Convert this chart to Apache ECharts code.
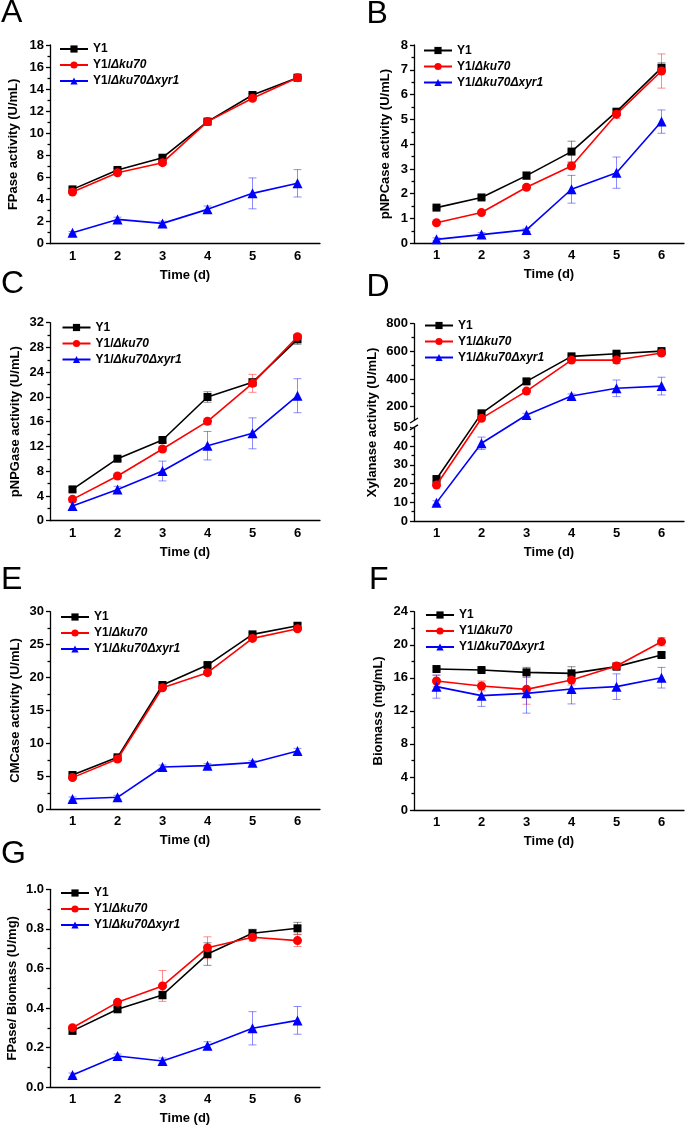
<!DOCTYPE html>
<html><head><meta charset="utf-8">
<script src="https://cdn.jsdelivr.net/npm/echarts@6/dist/echarts.min.js"></script>
<style>html,body{margin:0;padding:0;background:#fff}#c{width:685px;height:1131px}</style>
</head><body><div id="c"></div>
<script>
// ---------- data ----------
const days = ['1','2','3','4','5','6'];
const seriesNames = ['Y1','Y1/Δku70','Y1/Δku70Δxyr1'];

// A: FPase activity (U/mL)
const fpY1 = [4.92, 6.68, 7.79, 11.06, 13.47, 15.04];
const fpKu = [4.68, 6.43, 7.34, 11.06, 13.17, 15.04];
const fpXyr = [1.0, 2.2, 1.84, 3.11, 4.56, 5.47];
const fpY1Err = [0.15, 0.15, 0.2, 0.2, 0.15, 0.1];
const fpKuErr = [0.15, 0.15, 0.2, 0.25, 0.2, 0.1];
const fpXyrErr = [0.1, 0.2, 0.2, 0.3, 1.4, 1.24];

// B: pNPCase activity (U/mL)
const pcY1 = [1.44, 1.85, 2.73, 3.70, 5.31, 7.08];
const pcKu = [0.83, 1.24, 2.26, 3.12, 5.21, 6.95];
const pcXyr = [0.16, 0.35, 0.54, 2.18, 2.85, 4.91];
const pcY1Err = [0.05, 0.08, 0.15, 0.42, 0.1, 0.2];
const pcKuErr = [0.05, 0.06, 0.08, 0.12, 0.18, 0.69];
const pcXyrErr = [0.06, 0.08, 0.06, 0.56, 0.63, 0.47];

// C: pNPGase activity (U/mL)
const pgY1 = [5.06, 10.02, 13.04, 19.99, 22.36, 29.31];
const pgKu = [3.45, 7.22, 11.58, 16.06, 22.2, 29.74];
const pgXyr = [2.37, 5.06, 8.03, 12.12, 14.12, 20.2];
const pgY1Err = [0.3, 0.3, 0.4, 0.85, 0.6, 0.8];
const pgKuErr = [0.3, 0.4, 0.4, 0.5, 1.45, 0.3];
const pgXyrErr = [0.6, 0.5, 1.6, 2.3, 2.5, 2.75];

// D: Xylanase activity (U/mL), broken axis 0-50 / 100-800
const xyY1 = [22.4, 152, 383, 564, 583, 602];
const xyKu = [19.2, 116, 313, 537, 537, 588];
const xyXyr = [9.8, 41.5, 140, 277, 333, 349];
const xyY1Err = [1, 8, 15, 10, 12, 10];
const xyKuErr = [0.8, 8, 12, 12, 25, 15];
const xyXyrErr = [1, 3.3, 12, 15, 60, 64];
const xyTicks = [0, 10, 20, 30, 40, 50, 200, 400, 600, 800];
const xyMinorTicks = [5, 15, 25, 35, 45, 300, 500, 700];

// E: CMCase activity (U/mL)
const cmY1 = [5.21, 7.89, 18.87, 21.9, 26.56, 27.87];
const cmKu = [4.81, 7.64, 18.46, 20.74, 25.95, 27.42];
const cmXyr = [1.57, 1.82, 6.42, 6.63, 7.08, 8.85];
const cmY1Err = [0.3, 0.3, 0.3, 0.3, 0.3, 0.3];
const cmKuErr = [0.3, 0.3, 0.3, 0.3, 0.3, 0.3];
const cmXyrErr = [0.3, 0.3, 0.3, 0.3, 0.3, 0.4];

// F: Biomass (mg/mL)
const bmY1 = [17.06, 16.94, 16.66, 16.54, 17.35, 18.76];
const bmKu = [15.61, 15.01, 14.6, 15.73, 17.43, 20.37];
const bmXyr = [14.93, 13.84, 14.12, 14.64, 14.93, 16.01];
const bmY1Err = [0.2, 0.2, 0.6, 0.8, 0.3, 0.3];
const bmKuErr = [0.7, 0.6, 1.8, 0.6, 0.4, 0.5];
const bmXyrErr = [1.4, 1.3, 2.4, 1.8, 1.55, 1.25];

// G: FPase/ Biomass (U/mg)
const rtY1 = [0.285, 0.394, 0.466, 0.673, 0.778, 0.803];
const rtKu = [0.301, 0.429, 0.512, 0.705, 0.758, 0.741];
const rtXyr = [0.062, 0.158, 0.133, 0.21, 0.298, 0.338];
const rtY1Err = [0.015, 0.01, 0.02, 0.057, 0.02, 0.03];
const rtKuErr = [0.01, 0.01, 0.078, 0.055, 0.02, 0.03];
const rtXyrErr = [0.01, 0.01, 0.015, 0.02, 0.084, 0.07];

// ---------- styling ----------
const FONT = "'Liberation Sans', Arial, sans-serif";
const colors = ['#000000', '#ff0000', '#0000ff'];
const errColors = ['rgba(0,0,0,0.45)', 'rgba(255,0,0,0.45)', 'rgba(0,0,255,0.45)'];
const symbols = ['rect', 'circle', 'triangle'];
const symbolSizes = [8, 9, 10];

// broken-axis mapping for panel D
const BRK_LO = 50, BRK_HI = 100, BRK_GAP = 3.63, BRK_K = 0.07384;
function xyMap(v) { return v <= BRK_LO ? v : BRK_LO + BRK_GAP + (v - BRK_HI) * BRK_K; }
function xyUnmap(t) { return t <= BRK_LO + 1e-6 ? t : BRK_HI + (t - BRK_LO - BRK_GAP) / BRK_K; }
const ident = v => v;

const panels = [
  {letter:'A', lx:1, ly:13.5, left:50, top:45, height:198.7, yName:'FPase activity (U/mL)', yGap:30, max:18, interval:2,
   vals:[fpY1, fpKu, fpXyr], errs:[fpY1Err, fpKuErr, fpXyrErr], lgLeft:59, lgTop:42},
  {letter:'B', lx:366.5, ly:14, left:414, top:45, height:198.3, yName:'pNPCase activity (U/mL)', yGap:22.5, max:8, interval:1,
   vals:[pcY1, pcKu, pcXyr], errs:[pcY1Err, pcKuErr, pcXyrErr], lgLeft:423, lgTop:43.5},
  {letter:'C', lx:1, ly:284.5, left:50, top:322.7, height:198, yName:'pNPGase activity (U/mL)', yGap:28.5, max:32, interval:4,
   vals:[pgY1, pgKu, pgXyr], errs:[pgY1Err, pgKuErr, pgXyrErr], lgLeft:61.5, lgTop:320.5},
  {letter:'D', lx:366.5, ly:287, left:414, top:323.7, height:197.3, yName:'Xylanase activity (U/mL)', yGap:35.5, broken:true,
   vals:[xyY1, xyKu, xyXyr], errs:[xyY1Err, xyKuErr, xyXyrErr], lgLeft:424, lgTop:318.5},
  {letter:'E', lx:1, ly:580, left:50, top:611.7, height:197.6, yName:'CMCase activity (U/mL)', yGap:28.5, max:30, interval:5,
   vals:[cmY1, cmKu, cmXyr], errs:[cmY1Err, cmKuErr, cmXyrErr], lgLeft:60, lgTop:610},
  {letter:'F', lx:369, ly:580, left:414, top:611.7, height:198.3, yName:'Biomass (mg/mL)', yGap:29, max:24, interval:4,
   vals:[bmY1, bmKu, bmXyr], errs:[bmY1Err, bmKuErr, bmXyrErr], lgLeft:425, lgTop:608},
  {letter:'G', lx:1, ly:854, left:50, top:889.3, height:198, yName:'FPase/ Biomass (U/mg)', yGap:31.5, max:1.0, interval:0.2, dec:1,
   vals:[rtY1, rtKu, rtXyr], errs:[rtY1Err, rtKuErr, rtXyrErr], lgLeft:60, lgTop:886}
];

const axisLineStyle = {color:'#000', width:1.3};
const labelStyle = {fontFamily:FONT, fontWeight:'bold', fontSize:13, color:'#000'};

const option = {animation:false, backgroundColor:'#fff', grid:[], xAxis:[], yAxis:[], series:[], legend:[], graphic:[]};
let brokenInfo = null;

panels.forEach((p, pi) => {
  option.grid.push({left:p.left, top:p.top, width:270, height:p.height});
  const xi = option.xAxis.length;
  option.xAxis.push({
    type:'category', gridIndex:pi, data:days, boundaryGap:true, position:'bottom',
    name:'Time (d)', nameLocation:'middle', nameGap:25,
    nameTextStyle:Object.assign({}, labelStyle),
    axisLine:{lineStyle:axisLineStyle},
    axisTick:{alignWithLabel:true, length:4, lineStyle:axisLineStyle},
    axisLabel:Object.assign({margin:6}, labelStyle),
    splitLine:{show:false}
  });
  option.xAxis.push({
    type:'category', gridIndex:pi, data:days, boundaryGap:true, position:'bottom',
    axisLine:{show:false}, axisTick:{length:2.5, lineStyle:axisLineStyle},
    axisLabel:{show:false}, splitLine:{show:false}
  });
  const yi = option.yAxis.length;
  const map = p.broken ? xyMap : ident;
  const yBase = {
    gridIndex:pi, type:'value', position:'left',
    name:p.yName, nameLocation:'middle', nameGap:p.yGap, nameRotate:90,
    nameTextStyle:Object.assign({}, labelStyle),
    axisLine:{show:true, lineStyle:axisLineStyle},
    axisTick:{show:true, length:4, lineStyle:axisLineStyle},
    splitLine:{show:false}
  };
  if (p.broken) {
    const vmax = xyMap(800);
    option.yAxis.push(Object.assign(yBase, {
      min:0, max:vmax,
      axisLabel:Object.assign({margin:6, customValues:xyTicks.map(xyMap),
        formatter:v => String(Math.round(xyUnmap(v)))}, labelStyle),
      axisTick:{show:true, length:4, lineStyle:axisLineStyle, customValues:xyTicks.map(xyMap)}
    }));
    option.yAxis.push({
      gridIndex:pi, type:'value', position:'left', min:0, max:vmax,
      axisLine:{show:false}, splitLine:{show:false},
      axisLabel:{show:false, customValues:xyMinorTicks.map(xyMap)},
      axisTick:{show:true, length:2.5, lineStyle:axisLineStyle, customValues:xyMinorTicks.map(xyMap)}
    });
    brokenInfo = {yi:yi, left:p.left};
  } else {
    option.yAxis.push(Object.assign(yBase, {
      min:0, max:p.max, interval:p.interval,
      minorTick:{show:true, splitNumber:2, length:2.5, lineStyle:axisLineStyle},
      minorSplitLine:{show:false},
      axisLabel:Object.assign({margin:6, formatter:v => p.dec ? v.toFixed(p.dec) : String(v)}, labelStyle)
    }));
  }
  // error bars
  p.vals.forEach((vals, k) => {
    const errs = p.errs[k];
    option.series.push({
      type:'custom', name:'err' + pi + '_' + k, xAxisIndex:xi, yAxisIndex:yi, silent:true, z:1,
      data: vals.map((v, i) => [i, map(v - errs[i]), map(v + errs[i])]),
      encode:{x:0, y:[1, 2]},
      renderItem:(params, api) => {
        const x = api.value(0);
        const lo = api.coord([x, api.value(1)]);
        const hi = api.coord([x, api.value(2)]);
        const w = 4, st = {stroke:errColors[k], lineWidth:1};
        return {type:'group', children:[
          {type:'line', shape:{x1:lo[0], y1:lo[1], x2:hi[0], y2:hi[1]}, style:st},
          {type:'line', shape:{x1:lo[0]-w, y1:lo[1], x2:lo[0]+w, y2:lo[1]}, style:st},
          {type:'line', shape:{x1:hi[0]-w, y1:hi[1], x2:hi[0]+w, y2:hi[1]}, style:st}
        ]};
      }
    });
  });
  p.vals.forEach((vals, k) => {
    option.series.push({
      type:'line', name:seriesNames[k], xAxisIndex:xi, yAxisIndex:yi,
      data: vals.map(map), symbol:symbols[k], symbolSize:symbolSizes[k],
      itemStyle:{color:colors[k]}, lineStyle:{color:colors[k], width:1.6}, z:2 + k
    });
  });
  option.legend.push({
    orient:'vertical', left:p.lgLeft, top:p.lgTop, itemWidth:28, itemHeight:9, itemGap:2,
    selectedMode:false, data:seriesNames, padding:0,
    formatter:n => n.replace(/(Δ[a-z0-9]+)/g, '{i|$1}'),
    textStyle:{fontFamily:FONT, fontWeight:'bold', fontSize:12, color:'#000', lineHeight:14,
      rich:{i:{fontFamily:FONT, fontWeight:'bold', fontStyle:'italic', fontSize:12, color:'#000', lineHeight:14}}}
  });
  option.graphic.push({type:'text', x:p.lx, y:p.ly, silent:true,
    style:{text:p.letter, fill:'#000', fontFamily:FONT, fontSize:32, verticalAlign:'middle', align:'left'}});
});

const chart = echarts.init(document.getElementById('c'), null, {renderer:'canvas'});
chart.setOption(option);

// axis-break marks on panel D, positioned through the axis scale
const y50 = chart.convertToPixel({yAxisIndex:brokenInfo.yi}, xyMap(BRK_LO));
const y100 = chart.convertToPixel({yAxisIndex:brokenInfo.yi}, xyMap(BRK_HI));
const ax = brokenInfo.left;
const brk = [
  {type:'rect', shape:{x:ax-3, y:y100, width:6, height:y50-y100}, style:{fill:'#fff'}, z:100},
  {type:'line', shape:{x1:ax-4, y1:y50+2.5, x2:ax+4, y2:y50-2.5}, style:{stroke:'#000', lineWidth:1.3}, z:101},
  {type:'line', shape:{x1:ax-4, y1:y100+2.5, x2:ax+4, y2:y100-2.5}, style:{stroke:'#000', lineWidth:1.3}, z:101}
];
chart.setOption({graphic: option.graphic.concat(brk)});
</script></body></html>
